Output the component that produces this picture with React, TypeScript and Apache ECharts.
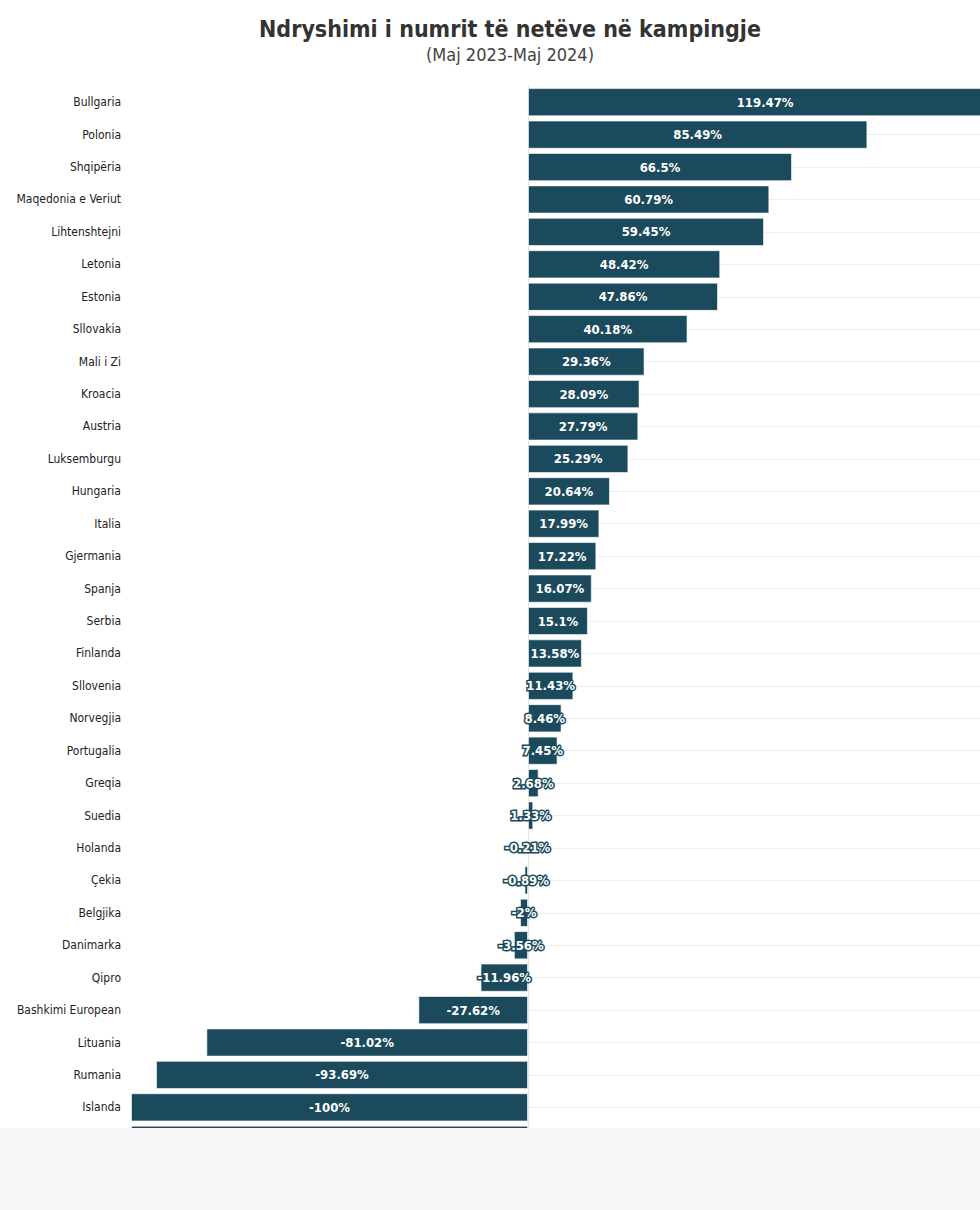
import React, { useEffect, useRef } from "react";
import * as echarts from "echarts";

const categories = [
  "Bullgaria", "Polonia", "Shqipëria", "Maqedonia e Veriut", "Lihtenshtejni",
  "Letonia", "Estonia", "Sllovakia", "Mali i Zi", "Kroacia", "Austria",
  "Luksemburgu", "Hungaria", "Italia", "Gjermania", "Spanja", "Serbia",
  "Finlanda", "Sllovenia", "Norvegjia", "Portugalia", "Greqia", "Suedia",
  "Holanda", "Çekia", "Belgjika", "Danimarka", "Qipro", "Bashkimi European",
  "Lituania", "Rumania", "Islanda", "",
];

const values = [
  119.47, 85.49, 66.5, 60.79, 59.45, 48.42, 47.86, 40.18, 29.36, 28.09, 27.79,
  25.29, 20.64, 17.99, 17.22, 16.07, 15.1, 13.58, 11.43, 8.46, 7.45, 2.68, 1.33,
  -0.21, -0.89, -2, -3.56, -11.96, -27.62, -81.02, -93.69, -100, -100,
];

const titleText = "Ndryshimi i numrit të netëve në kampingje";
const subtitleText = "(Maj 2023-Maj 2024)";

const FONT = '"Liberation Sans Narrow", "DejaVu Sans Condensed", Roboto, sans-serif';
const BAR = "#1b4a5c";

export default function App() {
  const ref = useRef<HTMLDivElement>(null);

  useEffect(() => {
    document.body.style.margin = "0";
    const chart = echarts.init(ref.current!, null, { renderer: "svg" });
    chart.setOption({
      animation: false,
      backgroundColor: "#ffffff",
      title: {
        text: titleText,
        subtext: subtitleText,
        left: "center",
        top: 12,
        itemGap: 5,
        textStyle: { fontFamily: FONT, fontSize: 23, fontWeight: "bold", color: "#333333" },
        subtextStyle: { fontFamily: FONT, fontSize: 18, color: "#444444" },
      },
      grid: { left: 131, top: 86, height: 1070, width: 873.4 },
      xAxis: {
        type: "value",
        min: -100,
        max: 120,
        show: false,
      },
      yAxis: {
        type: "category",
        data: categories,
        inverse: true,
        axisLine: { show: true, lineStyle: { color: "#e6e6e6", width: 1 } },
        axisTick: {
          show: true,
          alignWithLabel: true,
          inside: true,
          length: 880,
          lineStyle: { color: "#eeeeee", width: 1 },
        },
        splitLine: { show: false },
        axisLabel: { fontFamily: FONT, fontSize: 12, color: "#222222", margin: 10 },
      },
      series: [
        {
          type: "bar",
          data: values.map((v, i) =>
            i === values.length - 1 ? { value: v, label: { show: false } } : v
          ),
          barCategoryGap: "13%",
          itemStyle: { color: BAR, borderColor: "rgba(255,255,255,0.6)", borderWidth: 1 },
          label: {
            show: true,
            position: "inside",
            formatter: (p: any) => `${p.value}%`,
            fontFamily: FONT,
            fontSize: 13,
            fontWeight: "bold",
            color: "#ffffff",
            textBorderColor: BAR,
            textBorderWidth: 3,
          },
        },
      ],
    });
    return () => chart.dispose();
  }, []);

  return (
    <div style={{ width: 980, height: 1210, overflow: "hidden", background: "#f8f8f8" }}>
      <div style={{ width: 980, height: 1128, overflow: "hidden", background: "#ffffff" }}>
        <div ref={ref} style={{ width: 1020, height: 1160 }} />
      </div>
    </div>
  );
}
